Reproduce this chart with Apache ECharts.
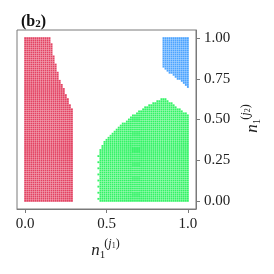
<!DOCTYPE html>
<html><head><meta charset="utf-8">
<script src="https://cdn.jsdelivr.net/npm/echarts@6/dist/echarts.min.js"></script>
<style>html,body{margin:0;padding:0;background:#fff}#c{width:274px;height:274px}</style>
</head><body><div id="c"></div>
<script>
// ---- data ----
const xTickValues = [0, 0.5, 1.0];
const xTickLabels = ['0.0', '0.5', '1.0'];
const yTickValues = [0, 0.25, 0.5, 0.75, 1.0];
const yTickLabels = ['0.00', '0.25', '0.50', '0.75', '1.00'];
const gridStep = 0.0125;           // spacing of the sampled grid
// red region: rows with y >= redEdgeYMin[k] (until next) extend from x=0 to redEdgeXMax[k]
const redEdgeYMin = [0.97, 0.90, 0.85, 0.79, 0.75, 0.72, 0.69, 0.66, 0.63, 0.60, 0.57, 0.0];
const redEdgeXMax = [0.15, 0.1625, 0.175, 0.1875, 0.20, 0.2125, 0.225, 0.2375, 0.25, 0.2625, 0.275, 0.2875];
const redYMax = 1.0;
// green region: columns from y=0 up to greenColTop
const greenColX = [0.4625,0.475,0.4875,0.5,0.5125,0.525,0.5375,0.55,0.5625,0.575,0.5875,0.6,0.6125,0.625,0.6375,0.65,0.6625,0.675,0.6875,0.7,0.7125,0.725,0.7375,0.75,0.7625,0.775,0.7875,0.8,0.8125,0.825,0.8375,0.85,0.8625,0.875,0.8875,0.9,0.9125,0.925,0.9375,0.95,0.9625,0.975,0.9875,1.0];
const greenColTop = [0.3125,0.3375,0.3625,0.375,0.3875,0.4,0.4125,0.425,0.4375,0.45,0.4625,0.475,0.475,0.4875,0.5,0.5125,0.525,0.525,0.5375,0.55,0.55,0.5625,0.575,0.575,0.5875,0.5875,0.6,0.6,0.6125,0.6125,0.625,0.625,0.625,0.6125,0.6,0.6,0.5875,0.575,0.5625,0.5625,0.55,0.5375,0.5375,0.525];
const greenDotsX = 0.45;
const greenDotsY = [0.0125, 0.05, 0.0875, 0.125, 0.1625, 0.2, 0.2375, 0.275];
// blue region: columns from blueColBottom up to y=1
const blueColX = [0.85,0.8625,0.875,0.8875,0.9,0.9125,0.925,0.9375,0.95,0.9625,0.975,0.9875,1.0];
const blueColBottom = [0.825,0.8125,0.8,0.7875,0.7875,0.775,0.7625,0.75,0.75,0.7375,0.725,0.7125,0.7];
const blueTop = 1.0;

// ---- build point lists on the grid ----
const eps = 1e-9;
const redPts = [];
for (let j = 0; j * gridStep <= redYMax + eps; j++) {
  const y = j * gridStep;
  let xm = 0;
  for (let k = 0; k < redEdgeYMin.length; k++) { if (y >= redEdgeYMin[k] - eps) { xm = redEdgeXMax[k]; break; } }
  for (let i = 0; i * gridStep <= xm + eps; i++) redPts.push([i * gridStep, y]);
}
const greenPts = [];
greenColX.forEach((x, c) => {
  for (let j = 0; j * gridStep <= greenColTop[c] + eps; j++) greenPts.push([x, j * gridStep]);
});
greenDotsY.forEach(y => greenPts.push([greenDotsX, y]));
const bluePts = [];
blueColX.forEach((x, c) => {
  for (let j = Math.round(blueColBottom[c] / gridStep); j * gridStep <= blueTop + eps; j++) bluePts.push([x, j * gridStep]);
});

const chart = echarts.init(document.getElementById('c'), null, {renderer: 'canvas'});
const axisColor = '#7a7a7a';
const textColor = '#222';
const serif = '"Liberation Serif","DejaVu Serif",serif';
const mk = (data, color) => ({
  type: 'scatter', data, symbol: 'rect', symbolSize: 1.85, silent: true,
  itemStyle: {color}, animation: false
});
chart.setOption({
  animation: false,
  grid: {left: 17, right: 78, top: 30, bottom: 65, show: true, borderColor: axisColor, borderWidth: 1, backgroundColor: 'transparent'},
  xAxis: {
    type: 'value', min: -0.05, max: 1.05,
    axisLine: {show: true, onZero: false, lineStyle: {color: axisColor, width: 1}},
    axisTick: {show: true, length: 4, lineStyle: {color: axisColor}, customValues: xTickValues},
    axisLabel: {customValues: xTickValues, color: textColor, fontFamily: serif, fontSize: 15, margin: 8,
      formatter: v => xTickLabels[xTickValues.indexOf(v)]},
    splitLine: {show: false}
  },
  yAxis: {
    type: 'value', position: 'right', min: -0.05, max: 1.05,
    axisLine: {show: true, onZero: false, lineStyle: {color: axisColor, width: 1}},
    axisTick: {show: true, length: 4, lineStyle: {color: axisColor}, customValues: yTickValues},
    axisLabel: {customValues: yTickValues, color: textColor, fontFamily: serif, fontSize: 15, margin: 8,
      formatter: v => yTickLabels[yTickValues.indexOf(v)]},
    splitLine: {show: false}
  },
  title: {
    text: '{b|(b}{s|2}{b|)}', left: 16, top: 8,
    textStyle: {rich: {
      b: {fontFamily: serif, fontWeight: 'bold', fontSize: 16, color: '#111'},
      s: {fontFamily: serif, fontWeight: 'bold', fontSize: 11, color: '#111', padding: [6, 0, 0, 0]}
    }}
  },
  graphic: [
    {type: 'group', x: 106, y: 247, children: [
      {type: 'text', x: -10.5, y: 4, style: {text: 'n', font: 'italic 17px ' + serif, fill: textColor, align: 'center', verticalAlign: 'middle'}},
      {type: 'text', x: -3.5, y: 8, style: {text: '1', font: '11px ' + serif, fill: textColor, align: 'center', verticalAlign: 'middle'}},
      {type: 'text', x: 6, y: -3, style: {text: '{p|(}{j|j}{s|1}{p|)}', align: 'center', verticalAlign: 'middle',
        rich: {p: {font: '12px ' + serif, fill: textColor}, j: {font: 'italic 12px ' + serif, fill: textColor}, s: {font: '8px ' + serif, fill: textColor, padding: [4, 0, 0, 0]}}}}
    ]},
    {type: 'group', x: 249, y: 118, rotation: Math.PI / 2, children: [
      {type: 'text', x: -10.5, y: 4, style: {text: 'n', font: 'italic 17px ' + serif, fill: textColor, align: 'center', verticalAlign: 'middle'}},
      {type: 'text', x: -3.5, y: 8, style: {text: '1', font: '11px ' + serif, fill: textColor, align: 'center', verticalAlign: 'middle'}},
      {type: 'text', x: 6, y: -3, style: {text: '{p|(}{j|j}{s|2}{p|)}', align: 'center', verticalAlign: 'middle',
        rich: {p: {font: '12px ' + serif, fill: textColor}, j: {font: 'italic 12px ' + serif, fill: textColor}, s: {font: '8px ' + serif, fill: textColor, padding: [4, 0, 0, 0]}}}}
    ]}
  ],
  series: [mk(redPts, '#dc143c'), mk(greenPts, '#00f040'), mk(bluePts, '#1e8cff')]
});
</script></body></html>
